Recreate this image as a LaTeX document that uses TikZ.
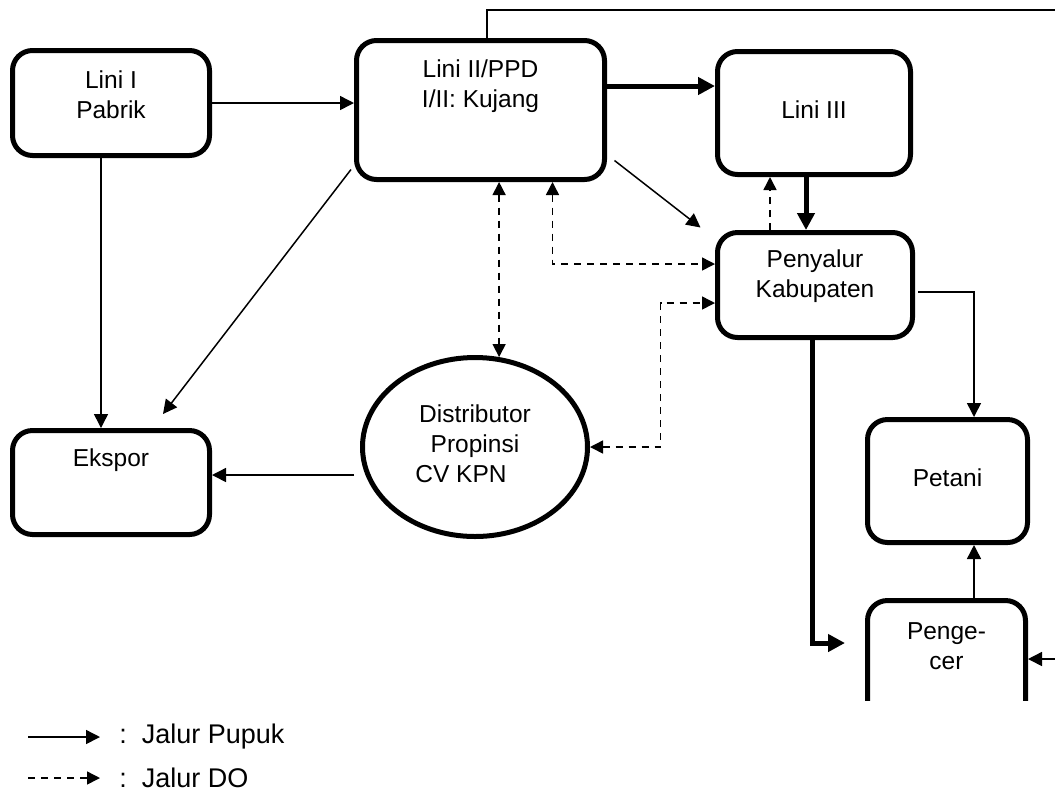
\documentclass[tikz,border=0pt]{standalone}
\usepackage{fontspec}
\setmainfont{Liberation Sans}
\usetikzlibrary{arrows.meta,shapes.geometric}

\tikzset{
  blok/.style={draw, line width=2.5pt, rounded corners=10pt, inner sep=0pt},
  teks/.style={align=center, inner sep=0pt, font=\fontsize{12.25}{15}\selectfont},
  legenda/.style={anchor=west, inner sep=0pt, font=\fontsize{13.5}{16}\selectfont},
  garis/.style={line width=0.75pt},
  pupuk/.style={garis, >={Triangle[length=7pt,width=7pt]}},
  tebal/.style={line width=2.5pt, >={Triangle[length=8.5pt,width=8.5pt]}},
  jalurdo/.style={garis, dash pattern=on 3.5pt off 3pt, >={Triangle[length=6.5pt,width=6.5pt]}}
}

\begin{document}
\begin{tikzpicture}[x=0.5pt,y=-0.5pt]
\useasboundingbox (0,0) rectangle (1055,800);

% kotak-kotak
\node[blok, minimum width=98.5pt, minimum height=52.5pt] (lini1) at (111,103) {};
\node[blok, minimum width=124pt, minimum height=69.5pt] (lini2) at (480.5,110) {};
\node[blok, minimum width=96.5pt, minimum height=61.5pt] (lini3) at (814,113) {};
\node[blok, minimum width=97.5pt, minimum height=52.5pt] (penyalur) at (815,285) {};
\node[blok, minimum width=98.5pt, minimum height=52pt] (ekspor) at (111,482.5) {};
\node[blok, minimum width=80pt, minimum height=61.5pt] (petani) at (947.5,481) {};
\node[draw, ellipse, line width=2.5pt, inner sep=0pt, minimum width=112.5pt, minimum height=89.5pt] (distr) at (475,447) {};
\begin{scope}
\clip (840,560) rectangle (1055,700);
\node[blok, minimum width=79pt, minimum height=61.5pt] (pengecer) at (946.5,662) {};
\end{scope}

% tulisan
\node[teks] (tlini1) at ([yshift=4pt]lini1.center) {Lini I\\Pabrik};
\node[teks] (tlini2) at ([yshift=12pt]lini2.center) {Lini II/PPD\\I/II: Kujang};
\node[teks] (tlini3) at ([yshift=1.5pt]lini3.center) {Lini III};
\node[teks] (tpenyalur) at ([yshift=4.5pt]penyalur.center) {Penyalur\\Kabupaten};
\node[teks] (tekspor) at ([yshift=11.25pt]ekspor.center) {Ekspor};
\node[teks] (tpetani) at ([yshift=1.5pt]petani.center) {Petani};
\node[teks] (tpengecer) at ([yshift=8pt]pengecer.center) {Penge-\\cer};
\node[teks] (tdistr) at ([yshift=1.75pt]distr.center) {Distributor\\Propinsi\\CV KPN\hspace*{14pt}};

% jalur pupuk
\draw[pupuk,->] (lini1.east) -- (lini1.east -| lini2.west);
\draw[pupuk,->] ([xshift=-5pt]lini1.south) -- ([xshift=-5pt]lini1.south |- ekspor.north);
\draw[pupuk,->] ([xshift=-1.5pt,yshift=6.25pt]lini2.south west) -- ([xshift=26pt,yshift=7pt]ekspor.north);
\draw[pupuk,->] ([xshift=3.75pt,yshift=10.75pt]lini2.south east) -- ([xshift=-7.25pt,yshift=1.25pt]penyalur.north west);
\draw[pupuk,->] ([xshift=-3pt,yshift=-14pt]distr.west) -- ([yshift=3.75pt]ekspor.east);
\draw[pupuk,->] ([xshift=1.5pt,yshift=-3.5pt]penyalur.east) -| ([xshift=13.25pt]petani.north);
\draw[pupuk,->] ([xshift=13.75pt]pengecer.north) -- ([xshift=13.75pt]pengecer.north |- petani.south);
\coordinate (kanan) at (1055,659);
\draw[pupuk,->] (kanan) -- (kanan -| pengecer.east);
\coordinate (atas) at (1055,10);
\draw[garis] ([xshift=3.25pt]lini2.north) |- (atas);

% jalur tebal
\draw[tebal,->] ([yshift=12pt]lini2.east) -- ([yshift=12pt]lini2.east -| lini3.west);
\draw[tebal,->] ([xshift=-4pt]lini3.south) -- ([xshift=-4pt]lini3.south |- penyalur.north);
\draw[tebal,->] ([xshift=-1.5pt]penyalur.south) |- ([xshift=-10pt,yshift=9.5pt]pengecer.west);

% jalur DO
\draw[jalurdo,->] ([xshift=-22.5pt]penyalur.north) -- ([xshift=-22.5pt]penyalur.north |- lini3.south);
\draw[jalurdo,<->] (distr.75 |- lini2.south) -- (distr.75);
\draw[jalurdo,<->] ([xshift=36pt]lini2.south) |- ([yshift=10.5pt]penyalur.west);
\draw[jalurdo,<->] (distr.east) -| ([xshift=-27.25pt,yshift=-9pt]penyalur.west) -- ([yshift=-9pt]penyalur.west);

% keterangan
\coordinate (leg1) at (28,737);
\coordinate (leg1b) at (100,737);
\coordinate (leg2) at (28,778);
\coordinate (leg2b) at (100,778);
\draw[pupuk,->] (leg1) -- (leg1b);
\draw[jalurdo,->] (leg2) -- (leg2b);
\node[legenda] (ket1) at (119,737) {:\ \ Jalur Pupuk};
\node[legenda] (ket2) at (119,778) {:\ \ Jalur DO};
\end{tikzpicture}
\end{document}
